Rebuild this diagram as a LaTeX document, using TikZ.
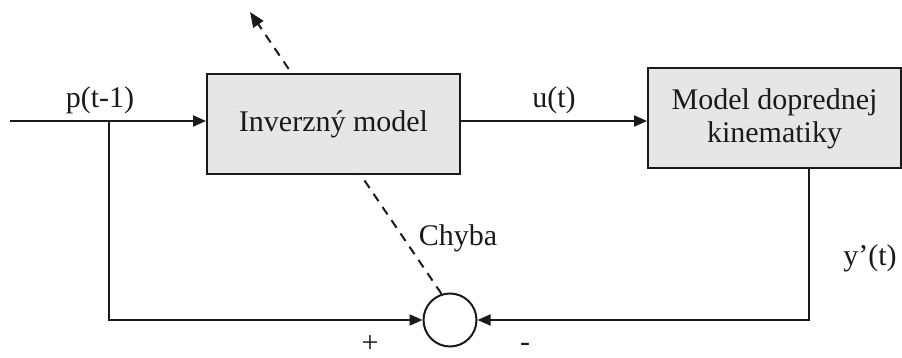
\documentclass[tikz,border=0pt]{standalone}
\usepackage{fontspec}
\setmainfont{Liberation Serif}
\usetikzlibrary{arrows.meta}
\definecolor{boxfill}{HTML}{E6E6E6}
\definecolor{ink}{HTML}{1A1A1A}
\begin{document}
\begin{tikzpicture}[x=1pt,y=-1pt,
  font=\fontsize{30}{35}\selectfont,
  every node/.style={text=ink},
  line/.style={draw=ink,line width=2pt},
  arr/.style={line,-{Triangle[length=13pt,width=11pt]}},
  block/.style={draw=ink,line width=2pt,fill=boxfill,minimum width=253pt,minimum height=100pt,inner sep=0pt,align=center},
  junction/.style={circle,draw=ink,line width=2pt,fill=white,minimum size=53pt,inner sep=0pt},
  lbl/.style={inner sep=0pt}]
\useasboundingbox (0,0) rectangle (902,358);

% summing junction and the dashed error path (passes behind the inverse model)
\node[junction] (sum) at (450,320) {};
\coordinate (errtip) at (250,12);
\draw[line,dashed,dash pattern=on 9pt off 7pt,-{Triangle[length=15pt,width=12pt]}] (sum.108) -- (errtip);

% blocks
\node[block] (inv) at (333.5,124) {Inverzný model};
\node[block] (fwd) at (774.5,118.5) {Model doprednej\\[-2pt]kinematiky};

% signal paths
\coordinate (in) at (10,121);
\coordinate (br) at (109,121);
\coordinate (yout) at (809,168);
\draw[arr] (in) -- (in -| inv.west);
\draw[arr] (inv.east |- 0,121) -- (fwd.west |- 0,121);
\draw[arr] (br) |- (sum.west);
\draw[arr] (yout) |- (sum.east);

% labels
\node[lbl] (lp) at (100,100) {p(t-1)};
\node[lbl] (lu) at (554,100) {u(t)};
\node[lbl] (lc) at (458,238) {Chyba};
\node[lbl] (ly) at (870,258) {y’(t)};
\node[lbl] (lplus) at (370,344) {+};
\node[lbl] (lminus) at (525,347) {-};
\end{tikzpicture}
\end{document}
